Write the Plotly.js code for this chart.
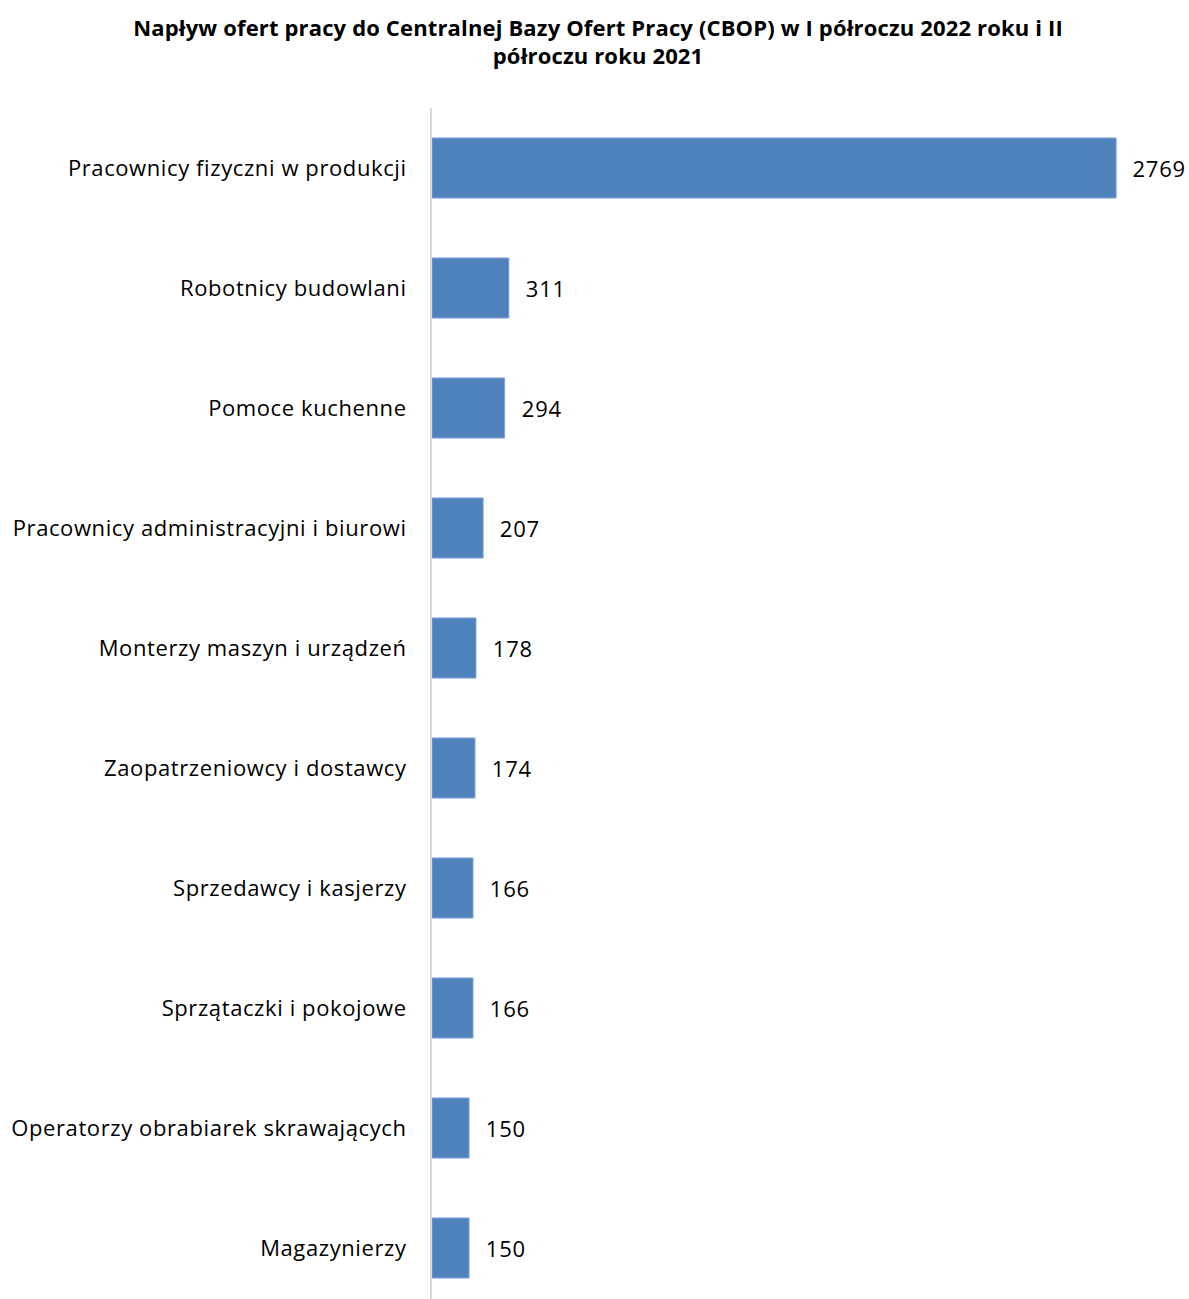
<!DOCTYPE html>
<html>
<head>
<meta charset="utf-8">
<script src="https://cdn.plot.ly/plotly-3.0.1.min.js"></script>
<style>
html,body{margin:0;padding:0;background:#fff;}
#chart{width:1189px;height:1299px;}
#chart .ytick text{letter-spacing:0.6px;}
#chart .annotation-text{letter-spacing:0.8px;}
#chart .gtitle{letter-spacing:0.15px;}
</style>
</head>
<body>
<div id="chart"></div>
<script>
const categories = [
  "Pracownicy fizyczni w produkcji",
  "Robotnicy budowlani",
  "Pomoce kuchenne",
  "Pracownicy administracyjni i biurowi",
  "Monterzy maszyn i urządzeń",
  "Zaopatrzeniowcy i dostawcy",
  "Sprzedawcy i kasjerzy",
  "Sprzątaczki i pokojowe",
  "Operatorzy obrabiarek skrawających",
  "Magazynierzy"
];
const values = [2769, 311, 294, 207, 178, 174, 166, 166, 150, 150];
const titleText = "Napływ ofert pracy do Centralnej Bazy Ofert Pracy (CBOP) w I półroczu 2022 roku i II<br>półroczu roku 2021";

const FONT = "Open Sans, sans-serif";

const trace = {
  type: "bar",
  orientation: "h",
  x: values,
  y: categories,
  width: 0.5,
  marker: {color: "#4f81bd", line: {color: "#7ea3d3", width: 1}},
  hoverinfo: "x+y"
};

const annotations = values.map((v, i) => ({
  x: v, y: categories[i], xref: "x", yref: "y",
  text: String(v), showarrow: false, xanchor: "left", yanchor: "middle",
  xshift: 16, font: {family: FONT, size: 22, color: "#000"}
}));

const layout = {
  width: 1189, height: 1299,
  margin: {l: 432, r: 0, t: 108, b: 0},
  paper_bgcolor: "#fff", plot_bgcolor: "#fff",
  showlegend: false,
  title: {text: titleText, x: 0.503, xanchor: "center", xref: "container",
          y: 0.9725, yanchor: "middle", yref: "container",
          font: {family: FONT, size: 22, color: "#000", weight: "bold"}},
  xaxis: {range: [0, 3064], showgrid: false, zeroline: false, showticklabels: false, showline: false, fixedrange: true},
  yaxis: {type: "category", categoryorder: "array", categoryarray: categories,
          range: [9.425, -0.5], showgrid: false, zeroline: false,
          showline: true, linecolor: "#d9d9d9", linewidth: 2,
          ticks: "", ticklabelstandoff: 19,
          tickfont: {family: FONT, size: 22, color: "#000"}},
  annotations: annotations,
  bargap: 0.5
};

Plotly.newPlot("chart", [trace], layout, {displayModeBar: false, staticPlot: true});
</script>
</body>
</html>
